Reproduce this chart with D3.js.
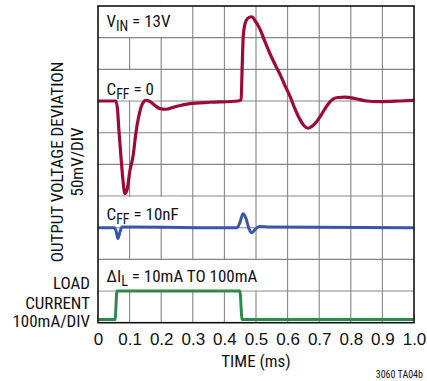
<!DOCTYPE html>
<html>
<head>
<meta charset="utf-8">
<script src="https://cdn.jsdelivr.net/npm/d3@7"></script>
<style>
  html, body { margin: 0; padding: 0; background: #fff; }
  svg { display: block; }
  text { font-family: "Liberation Sans Narrow", "Arial Narrow", "Roboto Condensed", sans-serif; fill: #111; }
</style>
</head>
<body>
<div id="chart"></div>
<script>
// ---- data ----
const timeTicks = [0, 0.1, 0.2, 0.3, 0.4, 0.5, 0.6, 0.7, 0.8, 0.9, 1.0];
const timeTickLabels = ["0", "0.1", "0.2", "0.3", "0.4", "0.5", "0.6", "0.7", "0.8", "0.9", "1.0"];

// C_FF = 0 : output deviation (mV), time (ms)
const redTime = [0, 0.057, 0.062, 0.066, 0.073, 0.079, 0.085, 0.092, 0.101, 0.111, 0.120, 0.130, 0.139, 0.152, 0.165, 0.180, 0.196, 0.215, 0.244, 0.291, 0.354, 0.443, 0.453, 0.456, 0.460, 0.468, 0.478, 0.487, 0.497, 0.513, 0.528, 0.544, 0.560, 0.576, 0.592, 0.608, 0.623, 0.639, 0.652, 0.665, 0.677, 0.693, 0.709, 0.725, 0.741, 0.759, 0.782, 0.813, 0.851, 0.892, 0.956, 1.0];
const redMv   = [0, 0, -15, -45, -90, -125, -146, -140, -110, -87, -50, -22, -6, 1, -1, -7, -12, -13, -9, -4, -2, 0, 2, 50, 105, 126, 132, 133, 127, 113, 94, 75, 58, 42, 24, 7, -12, -29, -39, -43, -40, -32, -20, -7, 2, 5.5, 6, 4, 0, -1, 0, 1];

// C_FF = 10nF : output deviation (mV)
const blueTime = [0, 0.051, 0.057, 0.063, 0.070, 0.076, 0.10, 0.32, 0.44, 0.449, 0.459, 0.468, 0.478, 0.487, 0.497, 0.51, 0.544, 1.0];
const blueMv   = [0, 0, -5, -17, -6, 1, 1, 0, 0, 8, 22, 15, -2, -8, -3, 2, 1, 0];

// load current (mA)
const greenTime = [0, 0.054, 0.060, 0.449, 0.456, 1.0];
const greenMa   = [10, 10, 100, 100, 10, 10];

// ---- layout ----
const W = 427, H = 381;
const L = 98, R = 414, T = 6, B = 322.7;
const redOffsetDiv = 7, blueOffsetDiv = 3, greenOffsetDiv = 0;
const mvPerDiv = 50, maPerDiv = 100;
const FS = 17;

const svg = d3.select("#chart").append("svg").attr("width", W).attr("height", H);

const x = d3.scaleLinear().domain([0, 1]).range([L, R]);
const y = d3.scaleLinear().domain([0, 10]).range([B, T]);

// grid
const grid = svg.append("g");
grid.selectAll("line.v").data(d3.range(1, 10)).enter().append("line")
  .attr("x1", d => x(d / 10)).attr("x2", d => x(d / 10))
  .attr("y1", T).attr("y2", B)
  .attr("stroke", "#858585").attr("stroke-width", 1.1);
grid.selectAll("line.h").data(d3.range(1, 10)).enter().append("line")
  .attr("x1", L).attr("x2", R)
  .attr("y1", d => y(d)).attr("y2", d => y(d))
  .attr("stroke", "#858585").attr("stroke-width", 1.1);

// in-plot labels with white boxes (cover vertical grid lines within a row)
function label(rowTopDiv, parts, baselineY) {
  const g = svg.append("g");
  const rect = g.append("rect").attr("fill", "#fff");
  const t = g.append("text").attr("x", 106.5).attr("y", baselineY).attr("font-size", FS);
  parts.forEach(p => {
    const ts = t.append("tspan").text(p.t);
    if (p.sub) ts.attr("font-size", 14).attr("dy", 4);
    else if (p.back) ts.attr("dy", -4);
  });
  const bb = t.node().getBBox();
  rect.attr("x", L + 1).attr("width", bb.x + bb.width + 4 - (L + 1))
    .attr("y", y(rowTopDiv) + 0.8).attr("height", y(rowTopDiv - 1) - y(rowTopDiv) - 1.6);
}
label(10, [{t: "V"}, {t: "IN", sub: true}, {t: " = 13V", back: true}], 27);
label(8, [{t: "C"}, {t: "FF", sub: true}, {t: " = 0", back: true}], 94.5);
label(4, [{t: "C"}, {t: "FF", sub: true}, {t: " = 10nF", back: true}], 219.5);
label(2, [{t: "ΔI"}, {t: "L", sub: true}, {t: " = 10mA TO 100mA", back: true}], 282);

// traces
const line = d3.line().curve(d3.curveMonotoneX);
const redPts = redTime.map((t, i) => [x(t), y(redOffsetDiv + redMv[i] / mvPerDiv)]);
const bluePts = blueTime.map((t, i) => [x(t), y(blueOffsetDiv + blueMv[i] / mvPerDiv)]);
const greenPts = greenTime.map((t, i) => [x(t), y(greenOffsetDiv + greenMa[i] / maPerDiv)]);

svg.append("path").attr("d", line(greenPts)).attr("fill", "none")
  .attr("stroke", "#2f8a4a").attr("stroke-width", 3).attr("stroke-linejoin", "round");
svg.append("path").attr("d", line(bluePts)).attr("fill", "none")
  .attr("stroke", "#3857a6").attr("stroke-width", 3).attr("stroke-linejoin", "round");
svg.append("path").attr("d", line(redPts)).attr("fill", "none")
  .attr("stroke", "#9c0a3a").attr("stroke-width", 3.2).attr("stroke-linejoin", "round");

// frame
svg.append("rect").attr("x", L).attr("y", T).attr("width", R - L).attr("height", B - T)
  .attr("fill", "none").attr("stroke", "#111").attr("stroke-width", 1.6);

// x axis labels
const xAxis = d3.axisBottom(x).tickValues(timeTicks)
  .tickFormat((d, i) => timeTickLabels[i]).tickSize(0).tickPadding(10);
const ax = svg.append("g").attr("transform", `translate(0,${B})`).call(xAxis);
ax.select(".domain").remove();
ax.selectAll("text").attr("font-size", FS).attr("fill", "#111")
  .style("font-family", "\"Liberation Sans Narrow\", \"Arial Narrow\", sans-serif");

svg.append("text").attr("x", (L + R) / 2).attr("y", 367).attr("text-anchor", "middle")
  .attr("font-size", FS).text("TIME (ms)");

svg.append("text").attr("x", 423).attr("y", 378).attr("text-anchor", "end")
  .attr("font-size", 10).text("3060 TA04b");

// y labels
svg.append("text").attr("transform", "translate(63,162) rotate(-90)").attr("text-anchor", "middle")
  .attr("font-size", FS).text("OUTPUT VOLTAGE DEVIATION");
svg.append("text").attr("transform", "translate(83,162) rotate(-90)").attr("text-anchor", "middle")
  .attr("font-size", FS).text("50mV/DIV");

svg.append("text").attr("x", 90).attr("y", 289).attr("text-anchor", "end").attr("font-size", FS).text("LOAD");
svg.append("text").attr("x", 90).attr("y", 309).attr("text-anchor", "end").attr("font-size", FS).text("CURRENT");
svg.append("text").attr("x", 90).attr("y", 327).attr("text-anchor", "end").attr("font-size", FS).text("100mA/DIV");
</script>
</body>
</html>
